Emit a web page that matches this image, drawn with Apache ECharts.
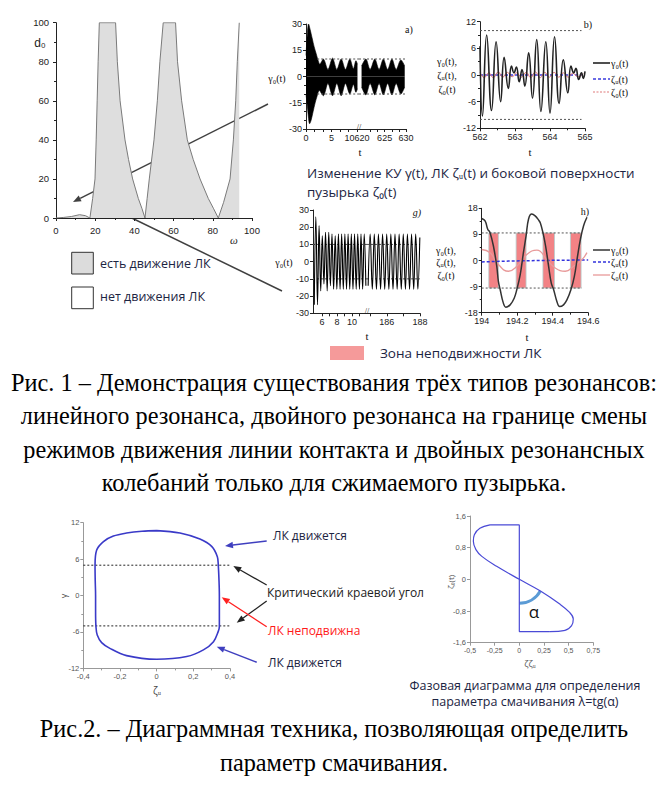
<!DOCTYPE html>
<html><head><meta charset="utf-8">
<script src="https://cdn.jsdelivr.net/npm/echarts@6/dist/echarts.min.js"></script>
<style>html,body{margin:0;padding:0;background:#fff}#c{width:668px;height:794px}</style>
</head><body><div id="c"></div>
<script>
// ================= DATA =================
// Top-left: d0(omega) resonance map
const omegaD0 = [[0,0],[4,0.3],[8,0.8],[12,1.7],[15,1.2],[17.3,0],[18.7,10],[19.9,20],[20.5,40],[21,60],[21.5,80],[22.1,100],[30.4,100],[31.3,80],[32.7,60],[35.2,40],[37,30],[39.1,20],[42,10],[43.8,5],[45.4,0],[46.5,10],[47.6,20],[50,40],[51.7,60],[53,80],[54.7,100],[61,100],[62,80],[64.1,60],[67,40],[70,30],[73.5,20],[77.7,10],[80.3,5],[82.8,0],[85.5,8],[88.8,20],[90.5,40],[91.7,60],[92.5,80],[93.5,100]];
const tlXLabels = [0,20,40,60,80,100];
const tlYLabels = [0,20,40,60,80,100];

// Panel a): envelope of gamma0(t), broken axis 0..10 | 620..630
const aUp1 = [[0,12],[0.3,26],[0.5,30],[0.8,27],[1.2,22],[1.6,17],[2.0,13],[2.4,9],[2.7,7],[3.4,10],[4.3,4],[5.2,10.5],[6.05,4],[6.9,10],[7.75,4],[8.6,10],[9.3,4.5],[9.8,9],[10.1,7]];
const aLo1 = [[0,-10],[0.3,-18],[0.5,-24],[0.7,-27],[1.0,-25],[1.4,-20],[1.8,-15],[2.2,-11],[2.6,-8],[3.4,-11],[4.3,-4],[5.2,-11],[6.05,-4],[6.9,-11],[7.75,-4],[8.6,-10],[9.3,-4.5],[9.8,-9],[10.1,-7]];
const aUp2 = [[619.6,6],[620.6,10],[621.6,4],[622.7,10],[623.7,4],[624.7,10],[625.7,4],[626.7,10],[627.7,4],[628.8,9.5],[629.7,6]];
const aLo2 = [[619.6,-6],[620.6,-10.5],[621.6,-4],[622.7,-10.5],[623.7,-4],[624.7,-10.5],[625.7,-4],[626.7,-10.5],[627.7,-4],[628.8,-10],[629.7,-6]];
const aCrit = [10,-10];
const aCritSpan1 = [2.2,10.4], aCritSpan2 = [619,631.3];
const aXLab1 = [0,5,10], aXLabText1 = ['0','5','10620'], aXTick1 = [0,1.67,3.33,5,6.67,8.33,10];
const aXLab2 = [625,630], aXTick2 = [621.67,623.33,625,626.67,628.33,630];
const aYLabels = [-30,-15,0,15,30];

// Panel b)
const bGamma = [[562.00,6.5],[562.07,-9.2],[562.19,9.0],[562.33,-8.0],[562.46,7.5],[562.59,-6.0],[562.69,4.0],[562.81,-3.0],[562.90,2.0],[562.97,0.5],[563.04,1.8],[563.12,-1.5],[563.20,1.2],[563.28,-2.5],[563.39,5.0],[563.50,-5.2],[563.62,8.0],[563.74,-8.2],[563.88,7.5],[564.00,-8.6],[564.13,8.6],[564.26,-6.4],[564.38,3.4],[564.51,-4.0],[564.60,2.0],[564.68,0.5],[564.74,1.5],[564.82,-1.0],[564.90,0.5],[564.95,-0.8],[565.0,0.8]];
const bZetaU = [[562,0],[565,0]];
const bZeta0 = [[562,0.6],[562.12,-0.6],[562.25,0.5],[562.38,-0.6],[562.52,0.7],[562.65,-0.5],[562.78,0.6],[562.92,-0.4],[563.05,0.5],[563.18,-0.5],[563.32,0.6],[563.45,-0.6],[563.58,0.7],[563.72,-0.6],[563.85,0.6],[563.98,-0.5],[564.12,0.6],[564.25,-0.5],[564.38,0.5],[564.52,-0.5],[564.65,0.4],[564.8,-0.4],[564.95,0.3]];
const bCrit = [10,-10];
const bCritSpan = [562,564.9];

// Panel g)
const gData1 = [[4.97,-25],[5.18,26],[5.40,-25],[5.61,21],[5.83,-17],[6.04,15],[6.26,-13],[6.47,17],[6.69,-17],[6.90,17],[7.12,-14],[7.33,16],[7.55,-16],[7.76,15],[7.98,-16],[8.19,16],[8.41,-16],[8.62,16],[8.84,-16],[9.05,16],[9.27,-16],[9.48,16],[9.70,-16],[9.91,16],[10.13,-16],[10.34,16],[10.56,-16],[10.77,16],[10.99,-16],[11.20,16],[11.42,-16],[11.63,16],[11.85,-14]];
const gData2 = [[184.87,-14],[184.99,16],[185.12,-16],[185.24,16],[185.37,-16],[185.49,16],[185.62,-16],[185.74,16],[185.87,-16],[185.99,16],[186.12,-16],[186.24,16],[186.37,-16],[186.49,16],[186.62,-16],[186.74,16],[186.87,-16],[186.99,16],[187.12,-16],[187.24,16],[187.37,-16],[187.49,16],[187.62,-16],[187.74,16],[187.87,-16],[187.99,14]];
const gCrit = [10,-10];
const gXLab1 = [6,8,10], gXTick1 = [6,7,8,9,10,11];
const gXLab2 = [186,188], gXTick2 = [185,186,187,188];

// Panel h)
const hGamma = [[194.000,14.5],[194.019,13.7],[194.034,10.8],[194.047,9.6],[194.066,5],[194.085,-2],[194.094,-7.2],[194.104,-10],[194.122,-14.7],[194.136,-16.1],[194.160,-15.3],[194.183,-13],[194.198,-10],[194.217,-4.9],[194.235,2.7],[194.250,8.5],[194.264,14.3],[194.282,16],[194.301,15.4],[194.320,14],[194.330,13],[194.345,9.6],[194.360,5],[194.377,-2],[194.392,-7.8],[194.405,-10],[194.424,-14.2],[194.439,-15.9],[194.461,-15.3],[194.480,-13.6],[194.503,-10],[194.522,-5.5],[194.540,1.5],[194.556,7.3],[194.574,12],[194.593,14.9]];
const hZeta0 = [[194.000,3.8],[194.047,2.7],[194.094,-1.4],[194.151,-3.7],[194.198,-2.0],[194.254,2.1],[194.311,3.6],[194.367,0.3],[194.414,-2.6],[194.471,-3.7],[194.518,-2.0],[194.565,0.3],[194.593,2.7]];
const hZetaU = [[194,-0.5],[194.15,-0.2],[194.33,0],[194.6,0.2]];
const hCrit = [9.5,-9.5];
const hCritSpan = [194,194.565];
const hZones = [[194.04,194.094],[194.194,194.25],[194.345,194.41],[194.5,194.56]];

// Fig.2 left: gamma vs zeta loop
const loopLeft = [[0,10.7],[0.127,10.3],[0.236,9.3],[0.3,8.1],[0.331,6.4],[0.336,5.05],[0.34,2.5],[0.342,0],[0.342,-2.5],[0.342,-5.1],[0.336,-5.9],[0.31,-7.6],[0.255,-8.95],[0.164,-10.05],[0,-10.5],[-0.164,-9.9],[-0.255,-8.7],[-0.3,-7.75],[-0.324,-6.5],[-0.331,-5.1],[-0.333,-2.5],[-0.333,0],[-0.335,2.5],[-0.336,5.05],[-0.327,7.5],[-0.29,8.9],[-0.236,9.8],[-0.164,10.3],[-0.08,10.6],[0,10.7]];
const leftCrit = [5,-5];
const leftCritSpan = [-0.4,0.4];

// Fig.2 right: phase diagram
const phaseCurve = [[-0.297,1.375],[-0.4,1.29],[-0.456,1.125],[-0.466,0.96],[-0.44,0.75],[-0.38,0.58],[-0.23,0.33],[0,0],[0.21,-0.29],[0.41,-0.625],[0.507,-0.83],[0.547,-1.0],[0.53,-1.17],[0.463,-1.29],[0.31,-1.32]];
const phaseEdge = [[0.31,-1.32],[0,-1.32],[0,1.375],[-0.297,1.375]];

// ================= CHART =================
function merge(a,b){const o=Object.assign({},a);for(const k in b){const v=b[k];if(v&&typeof v==='object'&&!Array.isArray(v)&&a[k]&&typeof a[k]==='object'&&!Array.isArray(a[k]))o[k]=merge(a[k],v);else o[k]=v;}return o;}
const comma = v => String(parseFloat((+v).toFixed(2))).replace('.',',');
function ax(gi,extra){return merge({gridIndex:gi,type:'value',axisLine:{show:true,onZero:false,lineStyle:{color:'#222',width:1}},axisTick:{show:true,length:3,lineStyle:{color:'#222'}},minorTick:{show:false},splitLine:{show:false},minorSplitLine:{show:false},axisLabel:{fontSize:9,color:'#222',margin:4,fontFamily:'Liberation Sans'}},extra);}
const gray2 = {axisLine:{lineStyle:{color:'#999'}},axisTick:{lineStyle:{color:'#999'}},axisLabel:{color:'#555',fontSize:7.5,formatter:comma}};

const grids = [
 {left:56, top:22.7, width:196, height:195.3},
 {left:306, top:24, width:53, height:105},
 {left:359, top:24, width:47, height:105},
 {left:480, top:21.7, width:105, height:106.6},
 {left:313, top:210, width:54, height:103.3},
 {left:367, top:210, width:53, height:103.3},
 {left:481.7, top:208.3, width:106.5, height:104.4},
 {left:83.3, top:522.7, width:146.7, height:145.7},
 {left:470, top:516, width:123.3, height:126.7}
].map(g=>Object.assign({outerBoundsMode:'none',containLabel:false},g));

const xAxis = [
 ax(0,{min:0,max:100,interval:20,minorTick:{show:true,splitNumber:2,length:2},axisLabel:{fontSize:9.5,margin:7,customValues:tlXLabels}}),
 ax(1,{min:0,max:10.4,axisLabel:{customValues:aXLab1,formatter:v=>aXLabText1[aXLab1.indexOf(+v)]},axisTick:{customValues:aXTick1}}),
 ax(2,{min:619,max:630,axisLabel:{customValues:aXLab2},axisTick:{customValues:aXTick2}}),
 ax(3,{min:562,max:565,interval:1,minorTick:{show:true,splitNumber:2,length:2}}),
 ax(4,{min:4.8,max:12,axisLabel:{customValues:gXLab1},axisTick:{customValues:gXTick1}}),
 ax(5,{min:184.8,max:188,axisLabel:{customValues:gXLab2},axisTick:{customValues:gXTick2}}),
 ax(6,{min:194,max:194.6,interval:0.2,minorTick:{show:true,splitNumber:2,length:2},axisLabel:{formatter:v=>String(parseFloat((+v).toFixed(1)))}}),
 ax(7,merge(gray2,{min:-0.4,max:0.4,interval:0.2,minorTick:{show:true,splitNumber:2,length:2,lineStyle:{color:'#999'}}})),
 ax(8,merge(gray2,{min:-0.5,max:0.75,interval:0.25,axisLabel:{fontSize:7}}))
];
const yAxis = [
 ax(0,{min:0,max:100,interval:20,minorTick:{show:true,splitNumber:2,length:2},axisLabel:{fontSize:9.5,margin:7,customValues:tlYLabels}}),
 ax(1,{min:-30,max:30,interval:15,minorTick:{show:true,splitNumber:3,length:2},axisLabel:{customValues:aYLabels}}),
 ax(2,{min:-30,max:30,show:false}),
 ax(3,{min:-12,max:12,interval:6,minorTick:{show:true,splitNumber:2,length:2}}),
 ax(4,{min:-30,max:30,interval:10}),
 ax(5,{min:-30,max:30,show:false}),
 ax(6,{min:-18,max:18,interval:9,minorTick:{show:true,splitNumber:2,length:2}}),
 ax(7,merge(gray2,{min:-12,max:12,interval:6,minorTick:{show:true,splitNumber:2,length:2,lineStyle:{color:'#999'}}})),
 ax(8,merge(gray2,{min:-1.6,max:1.6,interval:0.8}))
];

function ln(i,data,style,extra){return merge({type:'line',xAxisIndex:i,yAxisIndex:i,data:data,showSymbol:false,symbol:'none',lineStyle:style,animation:false,z:3,silent:true},extra||{});}
function hl(i,span,y,color,extra){return ln(i,[[span[0],y],[span[1],y]],{color:color,width:1,type:[2,2]},merge({clip:false},extra||{}));}

const blk = {color:'#000',width:0.6};
const series = [
 ln(0,omegaD0,{color:'#7a7a7a',width:1},{areaStyle:{color:'#dedede',opacity:1}}),
 ln(1,aUp1,blk,{smooth:0.3,areaStyle:{color:'#000',opacity:1}}),
 ln(1,aLo1,blk,{smooth:0.3,areaStyle:{color:'#000',opacity:1}}),
 ln(2,aUp2,blk,{smooth:0.3,areaStyle:{color:'#000',opacity:1}}),
 ln(2,aLo2,blk,{smooth:0.3,areaStyle:{color:'#000',opacity:1}}),
 hl(1,aCritSpan1,aCrit[0],'#555'), hl(1,aCritSpan1,aCrit[1],'#555'),
 hl(2,aCritSpan2,aCrit[0],'#555'), hl(2,aCritSpan2,aCrit[1],'#555'),
 hl(3,bCritSpan,bCrit[0],'#555'), hl(3,bCritSpan,bCrit[1],'#555'),
 ln(3,bZetaU,{color:'#3b3bdd',width:1.3,type:[3,2]}),
 ln(3,bZeta0,{color:'#e07a7a',width:1},{smooth:0.5}),
 ln(3,bGamma,{color:'#222',width:1.6},{smooth:0.5}),
 hl(4,[4.8,12],gCrit[0],'#555'), hl(4,[4.8,12],gCrit[1],'#555'),
 hl(5,[184.8,188],gCrit[0],'#555'), hl(5,[184.8,188],gCrit[1],'#555'),
 ln(4,gData1,{color:'#000',width:1.1},{smooth:0.4}),
 ln(5,gData2,{color:'#000',width:1.1},{smooth:0.4}),
 hl(6,hCritSpan,hCrit[0],'#555',{z:2,markArea:{silent:true,z:1,itemStyle:{color:'rgba(240,108,112,0.85)',borderColor:'#b5cfcf',borderWidth:0.8},data:hZones.map(z=>[{xAxis:z[0],yAxis:hCrit[1]},{xAxis:z[1],yAxis:hCrit[0]}])}}),
 hl(6,hCritSpan,hCrit[1],'#555',{z:2}),
 ln(6,hZetaU,{color:'#3333dd',width:1.5,type:[3,2]}),
 ln(6,hZeta0,{color:'#e89a9a',width:1.3},{smooth:0.5}),
 ln(6,hGamma,{color:'#333',width:1.5},{smooth:0.4}),
 hl(7,leftCritSpan,leftCrit[0],'#222'), hl(7,leftCritSpan,leftCrit[1],'#222'),
 ln(7,loopLeft,{color:'#3a3ac8',width:1.6},{smooth:0.35}),
 ln(8,phaseCurve,{color:'#4a4ad6',width:1.2},{smooth:0.4}),
 ln(8,phaseEdge,{color:'#4a4ad6',width:1.2})
];

const chart = echarts.init(document.getElementById('c'),null,{renderer:'svg'});
chart.setOption({animation:false,backgroundColor:'#fff',grid:grids,xAxis:xAxis,yAxis:yAxis,series:series});

// ---------- annotations ----------
const NAVY='#1c2442';
const G=[];
function txt(x,y,t,font,fill,align,rot){const e={type:'text',x:x,y:y,silent:true,style:{text:t,font:font,fill:fill||'#000',align:align||'left',verticalAlign:'middle',textAlign:align||'left',textVerticalAlign:'middle'}};if(rot){e.rotation=rot;}G.push(e);}
function seg(x1,y1,x2,y2,color,w,dash){G.push({type:'line',silent:true,shape:{x1:x1,y1:y1,x2:x2,y2:y2},style:{stroke:color,lineWidth:w,lineDash:dash||null}});}
function arrow(x1,y1,x2,y2,color,w){const a=Math.atan2(y2-y1,x2-x1),L=8,W=3.2;const bx=x2-L*Math.cos(a),by=y2-L*Math.sin(a);seg(x1,y1,bx,by,color,w);G.push({type:'polygon',silent:true,shape:{points:[[x2,y2],[bx+W*Math.sin(a),by-W*Math.cos(a)],[bx-W*Math.sin(a),by+W*Math.cos(a)]]},style:{fill:color}});}
const SER='"Liberation Serif"', SANS='"Open Sans"';

// top-left
txt(40,43,'d₀','12px "Liberation Sans"','#222','center');
txt(234,240,'ω','italic 11px '+SER,'#222','center');
G.push({type:'rect',silent:true,shape:{x:71.7,y:252.3,width:21.6,height:21.7},style:{fill:'#dcdcdc',stroke:'#333',lineWidth:1}});
G.push({type:'rect',silent:true,shape:{x:71.7,y:287,width:21.6,height:21.7},style:{fill:'#fff',stroke:'#333',lineWidth:1}});
txt(100,263,'есть движение ЛК','12.5px '+SANS,NAVY);
txt(100,296,'нет движения ЛК','12.5px '+SANS,NAVY);
arrow(268,104,73,202,'#404040',1.5);
arrow(282,291,103,204,'#404040',1.5);

// panel a / b
txt(277,78,'γ₀(t)','10px '+SER,'#111','center');
txt(409,29,'a)','10px '+SER,'#111','center');
txt(360,152,'t','11px '+SER,'#111','center');
txt(359,127,'//','8px '+SER,'#111','center');
txt(447,61,'γ₀(t),','10px '+SER,'#111','center');
txt(447,75,'ζᵤ(t),','10px '+SER,'#111','center');
txt(447,89,'ζ₀(t)','10px '+SER,'#111','center');
txt(588,24,'b)','10px '+SER,'#111','center');
txt(530,152,'t','11px '+SER,'#111','center');
seg(593,63,610,63,'#222',1.6); txt(611,63,'γ₀(t)','10px '+SER,'#111');
seg(593,79,610,79,'#3b3bdd',1.3,[3,2]); txt(611,79,'ζᵤ(t)','10px '+SER,'#111');
seg(593,92,610,92,'#e07a7a',1.2,[2,1.5]); txt(611,92,'ζ₀(t)','10px '+SER,'#111');

txt(307,173,'Изменение КУ γ(t), ЛК ζᵤ(t) и боковой поверхности','13.4px '+SANS,NAVY);
txt(307,192,'пузырька ζ₀(t)','13.4px '+SANS,NAVY);

// panel g / h
txt(284,262,'γ₀(t)','10px '+SER,'#111','center');
txt(417,212,'g)','italic 10px '+SER,'#111','center');
txt(367,336,'t','11px '+SER,'#111','center');
txt(367,311,'//','8px '+SER,'#111','center');
txt(446,250,'γ₀(t),','10px '+SER,'#111','center');
txt(446,262,'ζᵤ(t),','10px '+SER,'#111','center');
txt(446,275,'ζ₀(t)','10px '+SER,'#111','center');
txt(585,211,'h)','10px '+SER,'#111','center');
txt(527,337,'t','11px '+SER,'#111','center');
seg(593,250,610,250,'#333',1.5); txt(611,250,'γ₀(t)','10px '+SER,'#111');
seg(593,262,610,262,'#3333dd',1.5,[3,2]); txt(611,262,'ζᵤ(t)','10px '+SER,'#111');
seg(593,275,610,275,'#e89a9a',1.3); txt(611,275,'ζ₀(t)','10px '+SER,'#111');
G.push({type:'rect',silent:true,shape:{x:330,y:346,width:34,height:14},style:{fill:'#f59a9a'}});
txt(380,353,'Зона неподвижности ЛК','13.5px '+SANS,NAVY);

// Fig.1 caption
const CAP='24.3px '+SER;
txt(334,382,'Рис. 1 – Демонстрация существования трёх типов резонансов:',CAP,'#000','center');
txt(334,415.5,'линейного резонанса, двойного резонанса на границе смены',CAP,'#000','center');
txt(334,449,'режимов движения линии контакта и двойных резонансных',CAP,'#000','center');
txt(334,482.5,'колебаний только для сжимаемого пузырька.',CAP,'#000','center');

// Fig.2 left annotations
txt(63,596,'γ','9px '+SANS,'#444','center',Math.PI/2);
txt(157,690,'ζᵤ','10px '+SANS,'#444','center');
txt(273,535,'ЛК движется','12px '+SANS,NAVY);
arrow(266.7,541,225,546,'#3f3fbf',1.5);
txt(267,592,'Критический краевой угол','12px '+SANS,'#222');
arrow(266.7,585,233.3,566,'#222',1.3);
arrow(266.7,601,236.7,622.7,'#222',1.3);
txt(268,630,'ЛК неподвижна','12px '+SANS,'#ff1a1a');
arrow(266.7,626.7,221.7,597.3,'#ff2020',1.3);
txt(268,662,'ЛК движется','12px '+SANS,NAVY);
arrow(256.7,662.3,216.7,646.7,'#3f3fbf',1.5);

// Fig.2 right annotations
const o = chart.convertToPixel({xAxisIndex:8,yAxisIndex:8},[0,0]);
G.push({type:'arc',silent:true,shape:{cx:o[0],cy:o[1],r:24,startAngle:29*Math.PI/180,endAngle:Math.PI/2,clockwise:true},style:{stroke:'#5b9bd5',lineWidth:3,fill:null}});
txt(534,611,'α','17px '+SANS,'#111','center');
txt(450,582,'ζ₀(t)','8px '+SANS,'#555','center',Math.PI/2);
txt(530,663,'ζζᵤ','9px '+SANS,'#555','center');
txt(525,685,'Фазовая диаграмма для определения','12.5px '+SANS,NAVY,'center');
txt(525,701,'параметра смачивания λ=tg(α)','12.5px '+SANS,NAVY,'center');

// Fig.2 caption
txt(334,728.5,'Рис.2. – Диаграммная техника, позволяющая определить',CAP,'#000','center');
txt(334,762,'параметр смачивания.',CAP,'#000','center');

chart.setOption({graphic:G});
</script></body></html>
